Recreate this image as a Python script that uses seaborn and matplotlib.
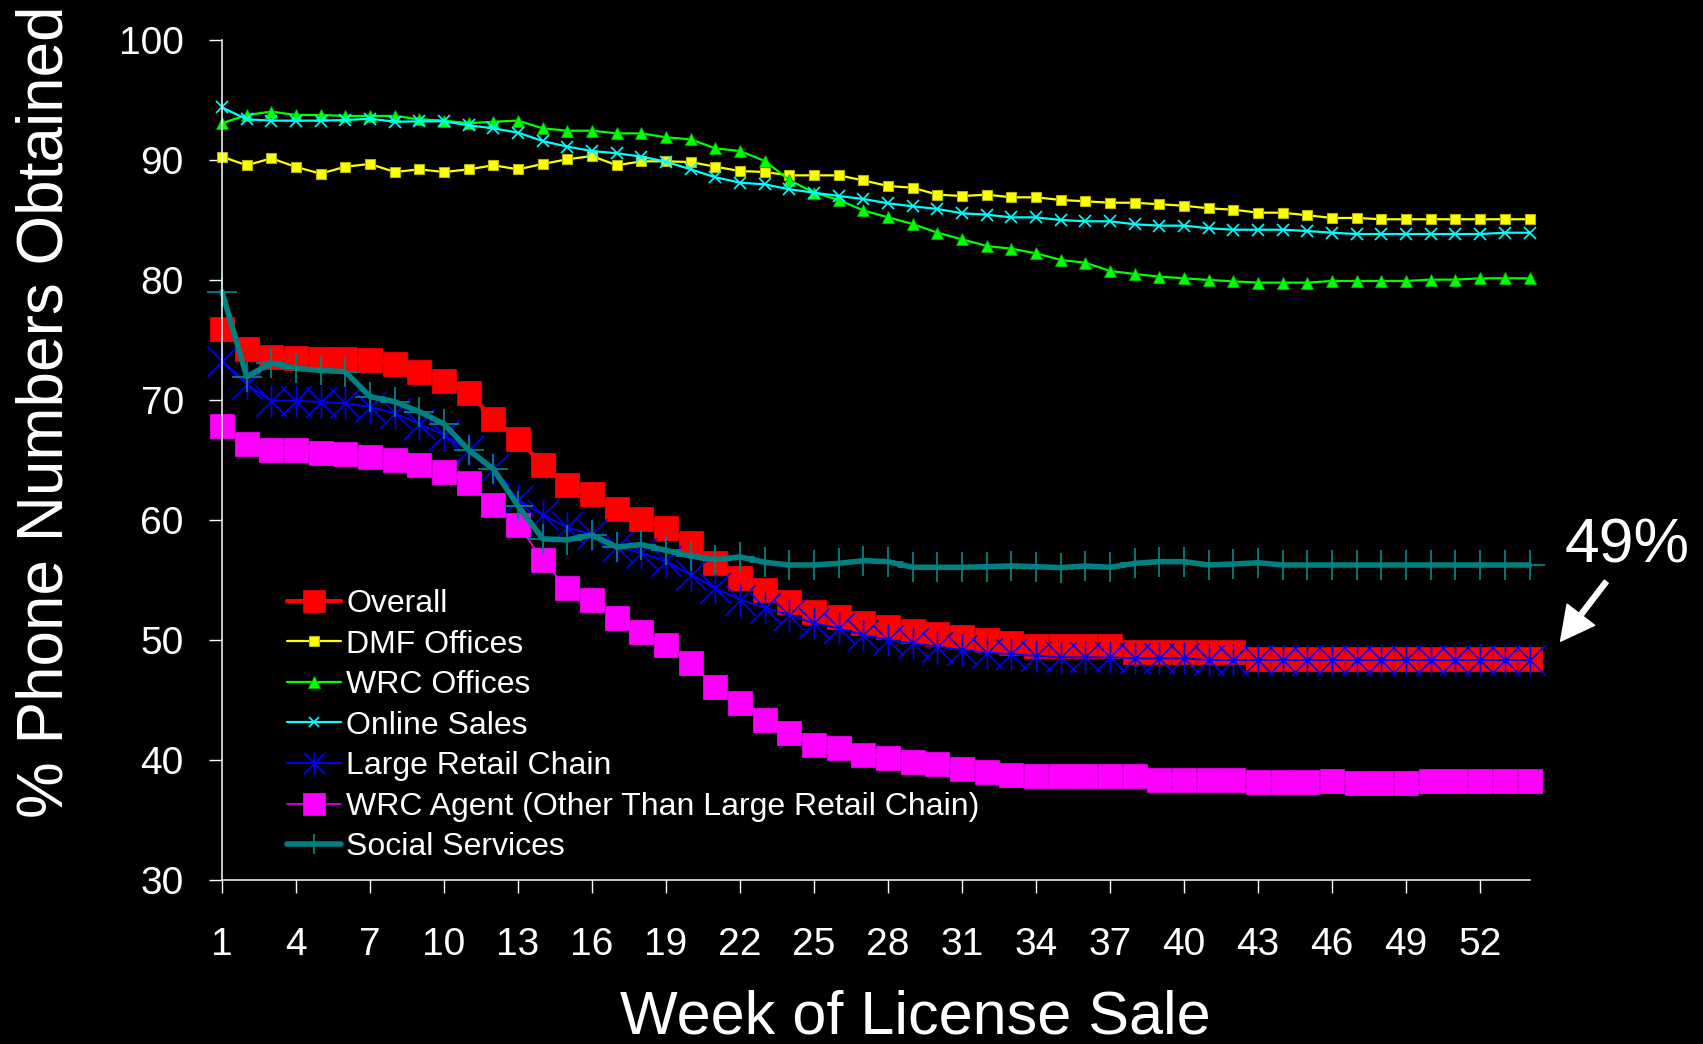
"""
Phone numbers obtained by week of license sale, by sales channel.
Black-background slide chart rebuilt with seaborn + matplotlib.
"""

import matplotlib
matplotlib.use("Agg")
import matplotlib.pyplot as plt
from matplotlib.path import Path
import seaborn as sns

# ---- data -------------------------------------------------------------
weeks = list(range(1, 55))

overall = [75.95, 74.27, 73.58, 73.5, 73.42, 73.4, 73.33, 73.0, 72.36, 71.61,
           70.58, 68.44, 66.78, 64.6, 62.88, 62.2, 60.95, 60.1, 59.3, 58.05,
           56.4, 55.2, 54.17, 53.19, 52.36, 51.94, 51.44, 51.11, 50.75, 50.5,
           50.22, 50.0, 49.72, 49.5, 49.5, 49.5, 49.5, 49.03, 49.03, 49.03,
           49.03, 49.03, 48.44, 48.44, 48.44, 48.44, 48.44, 48.44, 48.44, 48.44,
           48.44, 48.44, 48.44, 48.44]

dmf_offices = [90.28, 89.56, 90.14, 89.42, 88.86, 89.44, 89.67, 89.0, 89.22, 89.0,
               89.22, 89.56, 89.22, 89.67, 90.06, 90.33, 89.56, 89.89, 89.89, 89.83,
               89.44, 89.08, 89.0, 88.72, 88.72, 88.72, 88.3, 87.83, 87.69, 87.11,
               87.0, 87.11, 86.89, 86.89, 86.67, 86.56, 86.44, 86.44, 86.31, 86.19,
               85.97, 85.86, 85.61, 85.61, 85.39, 85.17, 85.17, 85.06, 85.06, 85.06,
               85.06, 85.06, 85.06, 85.06]

wrc_offices = [93.06, 93.75, 94.03, 93.75, 93.75, 93.67, 93.67, 93.67, 93.39, 93.28,
               93.06, 93.19, 93.28, 92.64, 92.44, 92.44, 92.22, 92.22, 91.89, 91.72,
               90.97, 90.75, 89.92, 88.33, 87.28, 86.67, 85.8, 85.22, 84.67, 83.94,
               83.39, 82.83, 82.61, 82.22, 81.67, 81.44, 80.75, 80.5, 80.28, 80.14,
               80.0, 79.89, 79.78, 79.78, 79.78, 79.92, 79.92, 79.92, 79.92, 80.03,
               80.03, 80.14, 80.14, 80.14]

online_sales = [94.39, 93.39, 93.28, 93.28, 93.28, 93.33, 93.44, 93.19, 93.22, 93.22,
                92.89, 92.64, 92.28, 91.58, 91.11, 90.75, 90.56, 90.28, 89.86, 89.22,
                88.56, 88.11, 87.97, 87.56, 87.28, 87.0, 86.75, 86.39, 86.14, 85.92,
                85.56, 85.44, 85.22, 85.22, 85.0, 84.89, 84.89, 84.64, 84.53, 84.53,
                84.31, 84.19, 84.19, 84.19, 84.08, 83.94, 83.83, 83.83, 83.83, 83.83,
                83.83, 83.83, 83.94, 83.94]

large_retail = [73.27, 71.3, 69.94, 69.94, 69.83, 69.72, 69.44, 68.89, 68.0, 67.08,
                65.83, 64.22, 61.7, 60.42, 59.38, 58.8, 57.78, 57.25, 56.55, 55.45,
                54.3, 53.36, 52.7, 52.08, 51.39, 50.97, 50.42, 50.0, 49.72, 49.44,
                49.17, 48.94, 48.83, 48.67, 48.56, 48.56, 48.56, 48.47, 48.47, 48.47,
                48.33, 48.33, 48.33, 48.33, 48.33, 48.33, 48.33, 48.33, 48.33, 48.33,
                48.33, 48.33, 48.33, 48.33]

wrc_agent = [67.86, 66.35, 65.86, 65.86, 65.6, 65.47, 65.28, 65.0, 64.58, 64.03,
             63.11, 61.25, 59.58, 56.67, 54.31, 53.33, 51.81, 50.69, 49.55, 48.06,
             46.11, 44.72, 43.33, 42.22, 41.25, 40.97, 40.42, 40.19, 39.86, 39.64,
             39.25, 39.03, 38.75, 38.67, 38.67, 38.67, 38.67, 38.67, 38.33, 38.33,
             38.33, 38.33, 38.14, 38.14, 38.14, 38.25, 38.11, 38.11, 38.11, 38.25,
             38.25, 38.25, 38.25, 38.25]

social_services = [79.03, 71.94, 73.08, 72.64, 72.47, 72.36, 70.28, 69.86, 69.03, 68.0,
                   65.83, 64.25, 61.17, 58.43, 58.35, 58.75, 57.75, 57.95, 57.47, 57.0,
                   56.7, 56.92, 56.48, 56.25, 56.25, 56.39, 56.61, 56.53, 56.06, 56.06,
                   56.06, 56.11, 56.17, 56.11, 56.03, 56.17, 56.06, 56.39, 56.53, 56.53,
                   56.25, 56.33, 56.44, 56.25, 56.25, 56.25, 56.25, 56.25, 56.25, 56.25,
                   56.25, 56.25, 56.25, 56.25]

series_labels = ["Overall", "DMF Offices", "WRC Offices", "Online Sales",
                 "Large Retail Chain", "WRC Agent (Other Than Large Retail Chain)",
                 "Social Services"]
x_ticks = list(range(1, 53, 3))
y_ticks = list(range(30, 101, 10))
callout_text = "49%"

# ---- style ------------------------------------------------------------
sns.set_style("ticks", {"axes.facecolor": "black", "figure.facecolor": "black"})
plt.rcParams["font.family"] = ["Liberation Sans", "DejaVu Sans"]

# Excel "star" marker: an X with a vertical bar through it
STAR = Path([(-1, -1), (1, 1), (-1, 1), (1, -1), (0, -1.05), (0, 1.05)],
            [Path.MOVETO, Path.LINETO, Path.MOVETO, Path.LINETO,
             Path.MOVETO, Path.LINETO])

styles = [
    dict(color="#FF0000", marker="s", markersize=17, linewidth=3, mec="#FF0000", mew=0.5),
    dict(color="#FFFF00", marker="s", markersize=6.5, linewidth=1.6, mec="#B5B500", mew=0.8),
    dict(color="#00FF00", marker="^", markersize=8, linewidth=1.6, mec="#00B000", mew=0.6),
    dict(color="#00FFFF", marker="x", markersize=8, linewidth=1.6, mec="#00FFFF", mew=1.2),
    dict(color="#0000FF", marker=STAR, markersize=23, linewidth=1.4, mec="#0000FF", mew=1.2),
    dict(color="#FF00FF", marker="s", markersize=17, linewidth=1.1, mec="#FF00FF", mew=0.5),
    dict(color="#008080", marker="+", markersize=22, linewidth=4, mec="#008080", mew=1.3),
]
legend_marker_sizes = [16, 6.5, 8, 7.5, 16, 16, 15]
all_series = [overall, dmf_offices, wrc_offices, online_sales,
              large_retail, wrc_agent, social_services]

W, H = 1703, 1044
fig = plt.figure(figsize=(W / 100, H / 100), dpi=100)
fig.patch.set_facecolor("black")
ax = fig.add_axes([222 / W, 1 - 880 / H, 1307.5 / W, 840 / H])
ax.set_facecolor("black")

for values, label, st in zip(all_series, series_labels, styles):
    sns.lineplot(x=weeks, y=values, ax=ax, label=label, errorbar=None,
                 clip_on=False, **st)

ax.set_xlim(1, 54)
ax.set_ylim(30, 100)
ax.set_xticks(x_ticks)
ax.set_yticks(y_ticks)
ax.tick_params(axis="x", colors="white", labelsize=28, length=9.5, width=1, pad=24,
               direction="out")
ax.tick_params(axis="y", colors="white", labelsize=28, length=9.5, width=1, pad=18,
               direction="out")
for side in ["top", "right"]:
    ax.spines[side].set_visible(False)
for side in ["left", "bottom"]:
    ax.spines[side].set_color("white")
    ax.spines[side].set_linewidth(1.1)
ax.set_xlabel("")
ax.set_ylabel("")

fig.text(45.5 / W, 1 - 412 / H, "% Phone Numbers Obtained", rotation=90,
         color="white", fontsize=46, ha="center", va="center")
fig.text(915 / W, 1 - 1033 / H, "Week of License Sale", color="white",
         fontsize=44, ha="center", va="baseline")

# legend
leg = ax.legend(loc="upper left", bbox_to_anchor=(287 / W, 1 - 589 / H),
                bbox_transform=fig.transFigure, frameon=False, fontsize=23,
                handlelength=1.69, handletextpad=0.16, labelspacing=0.33,
                borderpad=0, borderaxespad=0, labelcolor="white")
for line, ms in zip(leg.get_lines(), legend_marker_sizes):
    line.set_markersize(ms)

# callout for the overall end value
ax.text(55.42, 56.42, callout_text, color="white", fontsize=45,
        ha="left", va="baseline", clip_on=False)
ax.annotate("", xy=(55.26, 49.9), xytext=(57.11, 54.86),
            arrowprops=dict(facecolor="white", edgecolor="white", width=3.6,
                            headwidth=25, headlength=24, shrink=0),
            annotation_clip=False)

fig.savefig("out.png", dpi=100, facecolor="black")
plt.close(fig)
